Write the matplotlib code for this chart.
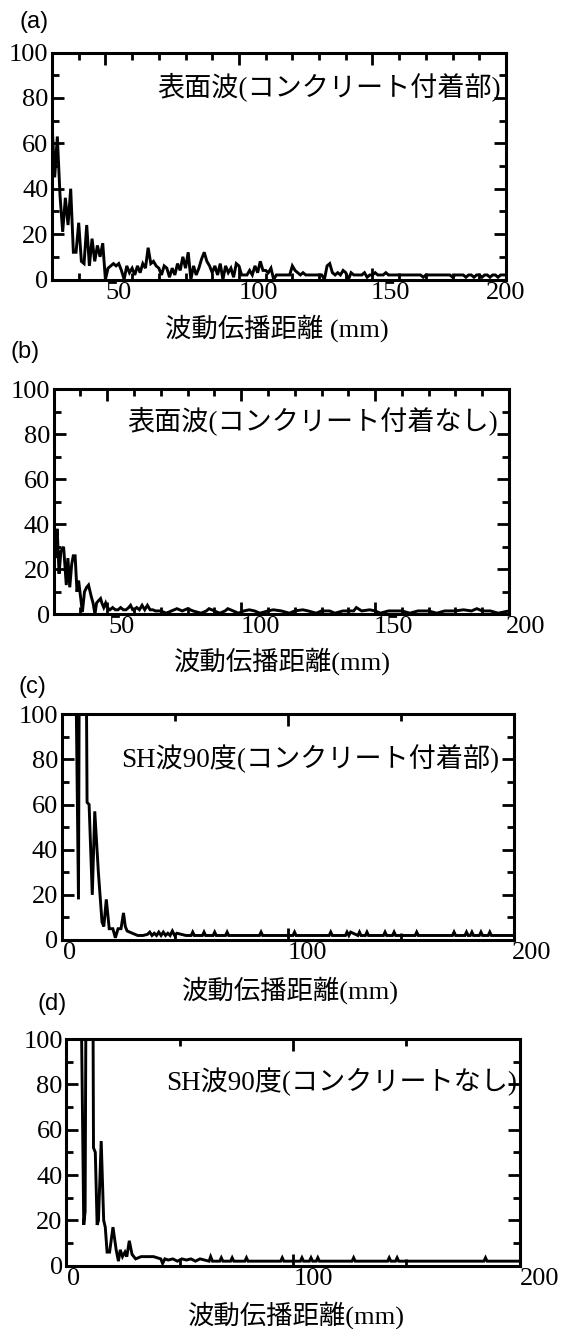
import numpy as np
import matplotlib
matplotlib.use("Agg")
import matplotlib.pyplot as plt
import matplotlib.transforms as mtransforms
from matplotlib.ticker import MultipleLocator, FixedLocator

plt.rcParams["font.family"] = ["Liberation Serif", "Noto Sans CJK JP"]

# (a) surface wave, concrete attached  (1 mm steps from 30 to 200 mm)
A_DIST = np.arange(30, 201)
A_VAL = [69, 45, 63, 37, 21, 36, 24, 40, 12, 12,
         25, 8, 7, 24, 6, 18, 8, 15, 10, 16,
         0, 5, 6, 7, 6, 7, 4, 0, 6, 3,
         5, 2, 6, 3, 7, 5, 14, 7, 8, 6,
         5, 2, 6, 5, 1, 5, 2, 7, 4, 10,
         5, 12, 0, 6, 2, 5, 9, 12, 8, 6,
         3, 6, 2, 7, 0, 6, 3, 5, 1, 7,
         6, 2, 2, 2, 4, 2, 6, 3, 8, 4,
         4, 3, 5, 0, 2, 2, 2, 2, 2, 2,
         6, 4, 3, 2, 3, 2, 2, 2, 2, 2,
         2, 2, 0, 6, 7, 3, 2, 3, 2, 4,
         3, 0, 3, 2, 2, 2, 2, 3, 1, 2,
         2, 3, 2, 2, 2, 3, 2, 2, 2, 2,
         2, 2, 2, 2, 2, 2, 2, 2, 2, 1,
         2, 2, 2, 2, 2, 2, 2, 2, 2, 2,
         1, 2, 2, 2, 2, 1, 2, 2, 1, 2,
         2, 1, 2, 2, 1, 2, 2, 1, 2, 2,
         2]

# (b) surface wave, no concrete
B_DIST = [30, 30.7, 31.3, 32, 32.7, 33.7, 34.7, 35.3, 36, 36.7,
          37.3, 38, 38.7, 39.3, 40, 40.7, 41.5, 42.3, 43, 44,
          44.7, 45.4, 46, 46.7, 47.5, 48, 48.7, 49.4, 50, 51,
          52, 53, 54, 55, 56, 57, 58, 58.7, 59.5, 60,
          61, 62, 63, 64, 65, 66, 67, 68, 70, 72,
          74, 76, 78, 80, 82, 85, 87, 88, 90, 92,
          94, 95, 97, 99, 101, 103, 105, 107, 110, 112,
          115, 118, 120, 123, 125, 128, 130, 133, 135, 138,
          140, 142, 143, 145, 148, 150, 152, 155, 158, 160,
          163, 166, 170, 173, 176, 180, 183, 186, 188, 190,
          193, 196, 200]
B_VAL = [46, 25, 38, 18, 28, 30, 13, 25, 12, 22,
         26, 26, 10, 15, 8, 1, 10, 12, 13, 8,
         5, 0, 5, 6, 7, 5, 3, 5, 3, 2,
         3, 2, 2, 3, 2, 2, 3, 4, 2, 2,
         3, 2, 4, 2, 4, 2, 2, 1.5, 1.5, 0.5,
         1.5, 2.5, 1.5, 2.5, 1.5, 0.5, 1.5, 2.5, 1.5, 0.5,
         1.5, 2.5, 1.5, 0.5, 1.5, 2, 1.5, 0.5, 1.5, 2,
         1.5, 0.5, 1.5, 2, 1.5, 0.5, 1.5, 1.5, 0.5, 1.5,
         1.5, 1.5, 3, 1.5, 2, 1.5, 0.5, 1.5, 1.5, 1.5,
         0.5, 1.5, 1.5, 0.5, 1.5, 1.5, 2, 1.5, 2.5, 1.5,
         1.5, 0.5, 1.5]

# (c) SH wave 90 deg, concrete attached
C_DIST = [6, 7.5, 8.3, 10.2, 11.3, 12.2, 13.6, 14.7, 16.3, 17.9,
          18.7, 19.8, 21.1, 22.7, 23.8, 25, 26.3, 27.4, 28.2, 29,
          31.3, 33.7, 36, 38, 39, 40, 41, 42, 43, 44,
          45, 46, 47, 48, 49, 50, 51, 55, 57.3, 58,
          58.7, 62.3, 63, 63.7, 67, 67.7, 68.4, 72.5, 73.2, 73.9,
          87.5, 88.2, 88.9, 102.3, 103, 103.7, 118.3, 119, 119.7, 125.5,
          126.2, 127, 127.8, 131, 131.7, 132.4, 134.3, 135, 135.7, 142.3,
          143, 143.7, 146.3, 147, 147.7, 156.3, 157, 157.7, 172.8, 173.5,
          174.2, 178.3, 179, 179.7, 180.7, 181.4, 182.1, 184.7, 185.4, 186.1,
          188.6, 189.3, 190, 200]
C_VAL = [150, 18, 250, 250, 61, 60, 20, 57, 30, 8,
         6, 18, 5, 5, 1, 5, 5, 12, 6, 4,
         3, 2, 2, 2.5, 3.5, 2, 3, 2, 3.5, 2,
         3.5, 2, 3, 2, 4, 2, 3, 2, 2, 3.5,
         2, 2, 3.5, 2, 2, 3.5, 2, 2, 3.5, 2,
         2, 3.5, 2, 2, 3.5, 2, 2, 3.5, 2, 2,
         3.5, 2, 3.5, 2, 3.5, 2, 2, 3.5, 2, 2,
         3.5, 2, 2, 3.5, 2, 2, 3.5, 2, 2, 3.5,
         2, 2, 3.5, 2, 2, 3.5, 2, 2, 3.5, 2,
         2, 3.5, 2, 2]

# (d) SH wave 90 deg, no concrete
D_DIST = [6.2, 7.7, 8.3, 9.2, 11.3, 12, 12.8, 13.6, 14.2, 15.4,
          16.5, 17.2, 18, 19.1, 20.6, 22, 23, 23.8, 24.8, 25.9,
          26.7, 27.8, 29, 30.6, 33, 38.5, 41.7, 42.5, 43.5, 45,
          47, 49, 51, 53, 55, 57, 59, 61, 63, 63.7,
          64.5, 67.7, 68.4, 69.1, 72.5, 73.2, 73.9, 78.8, 79.5, 80.2,
          94.6, 95.3, 96, 103.3, 104, 104.7, 107.3, 108, 108.7, 110.3,
          111, 111.7, 126.1, 126.8, 127.5, 141.8, 142.5, 143.2, 145.3, 146,
          146.7, 184.3, 185, 185.7, 200]
D_VAL = [150, 18, 24, 250, 250, 52, 50, 18, 20, 55,
         20, 17, 6, 6, 17, 7, 2, 7, 4, 6,
         4, 11, 5, 3, 4, 4, 3, 1, 3, 2.5,
         3, 2, 3, 2.5, 3, 2, 3, 2.5, 2, 4,
         2, 2, 3.5, 2, 2, 3.5, 2, 2, 3.5, 2,
         2, 3.5, 2, 2, 3.5, 2, 2, 3.5, 2, 2,
         3.5, 2, 2, 3.5, 2, 2, 3.5, 2, 2, 3.5,
         2, 2, 3.5, 2, 2]

XLABEL_A = "波動伝播距離 (mm)"
XLABEL = "波動伝播距離(mm)"
NOTES = ["表面波(コンクリート付着部)", "表面波(コンクリート付着なし)",
         "SH波90度(コンクリート付着部)", "SH波90度(コンクリートなし)"]
LETTERS = ["(a)", "(b)", "(c)", "(d)"]

W, H = 561, 1329
fig = plt.figure(figsize=(W / 100, H / 100), dpi=100)


def add_panel(l, r, t, b):
    return fig.add_axes([l / W, 1 - b / H, (r - l) / W, (b - t) / H])


def style(ax, xlim, major, minor, shifts):
    ax.set_xlim(*xlim)
    ax.set_ylim(0, 100)
    ax.xaxis.set_major_locator(FixedLocator(major))
    ax.xaxis.set_minor_locator(minor)
    ax.yaxis.set_major_locator(MultipleLocator(20))
    ax.yaxis.set_minor_locator(MultipleLocator(10))
    ax.tick_params(which="both", direction="in", top=True, right=True,
                   width=2, labelsize=19)
    ax.tick_params(which="major", length=8.5)
    ax.tick_params(which="minor", length=5)
    ax.tick_params(axis="x", pad=1.5)
    ax.tick_params(axis="y", pad=2.6)
    for s in ax.spines.values():
        s.set_linewidth(2.2)
    ax.set_xticks(major)
    ax.set_xticklabels([str(m) for m in major])
    # tick labels sit a little right of their ticks in the original
    for lab, dx in zip(ax.get_xticklabels(), shifts):
        off = mtransforms.ScaledTranslation(dx / 100, 0, fig.dpi_scale_trans)
        lab.set_transform(lab.get_transform() + off)


panels = [
    (add_panel(52, 506, 52.5, 279.5), A_DIST, A_VAL, (30, 200), [50, 100, 150, 200],
     MultipleLocator(10), [13, 19, 18, 0], XLABEL_A, (0.496, -0.214), (0.989, 0.85)),
    (add_panel(53.7, 509, 389.3, 614.3), B_DIST, B_VAL, (30, 200), [50, 100, 150, 200],
     MultipleLocator(10), [14, 19, 18, 17], XLABEL, (0.503, -0.208), (0.975, 0.86)),
    (add_panel(61.5, 514, 714.3, 940), C_DIST, C_VAL, (0, 200), [0, 100, 200],
     FixedLocator([50, 150]), [8, 20, 18], XLABEL, (0.505, -0.222), (0.967, 0.805)),
    (add_panel(66.3, 519.5, 1039, 1265.7), D_DIST, D_VAL, (0, 200), [0, 100, 200],
     FixedLocator([50, 150]), [7, 21, 20], XLABEL, (0.507, -0.217), (0.994, 0.81)),
]

for i, (ax, xs, ys, xlim, major, minor, shifts, xlab, lpos, npos) in enumerate(panels):
    ax.plot(xs, ys, color="black", lw=2.1, solid_joinstyle="miter")
    style(ax, xlim, major, minor, shifts)
    ax.set_xlabel(xlab, fontsize=19, va="center")
    ax.xaxis.set_label_coords(*lpos)
    ax.text(npos[0], npos[1], NOTES[i], transform=ax.transAxes,
            ha="right", va="center", fontsize=19.5)

letter_pos = [(34, 21.7), (25, 351.7), (32, 686.7), (52, 1004)]
for (px, py), letter in zip(letter_pos, LETTERS):
    fig.text(px / W, 1 - py / H, letter, ha="center", va="center",
             fontsize=17, family="Liberation Sans")

fig.savefig("out.png", dpi=100)
